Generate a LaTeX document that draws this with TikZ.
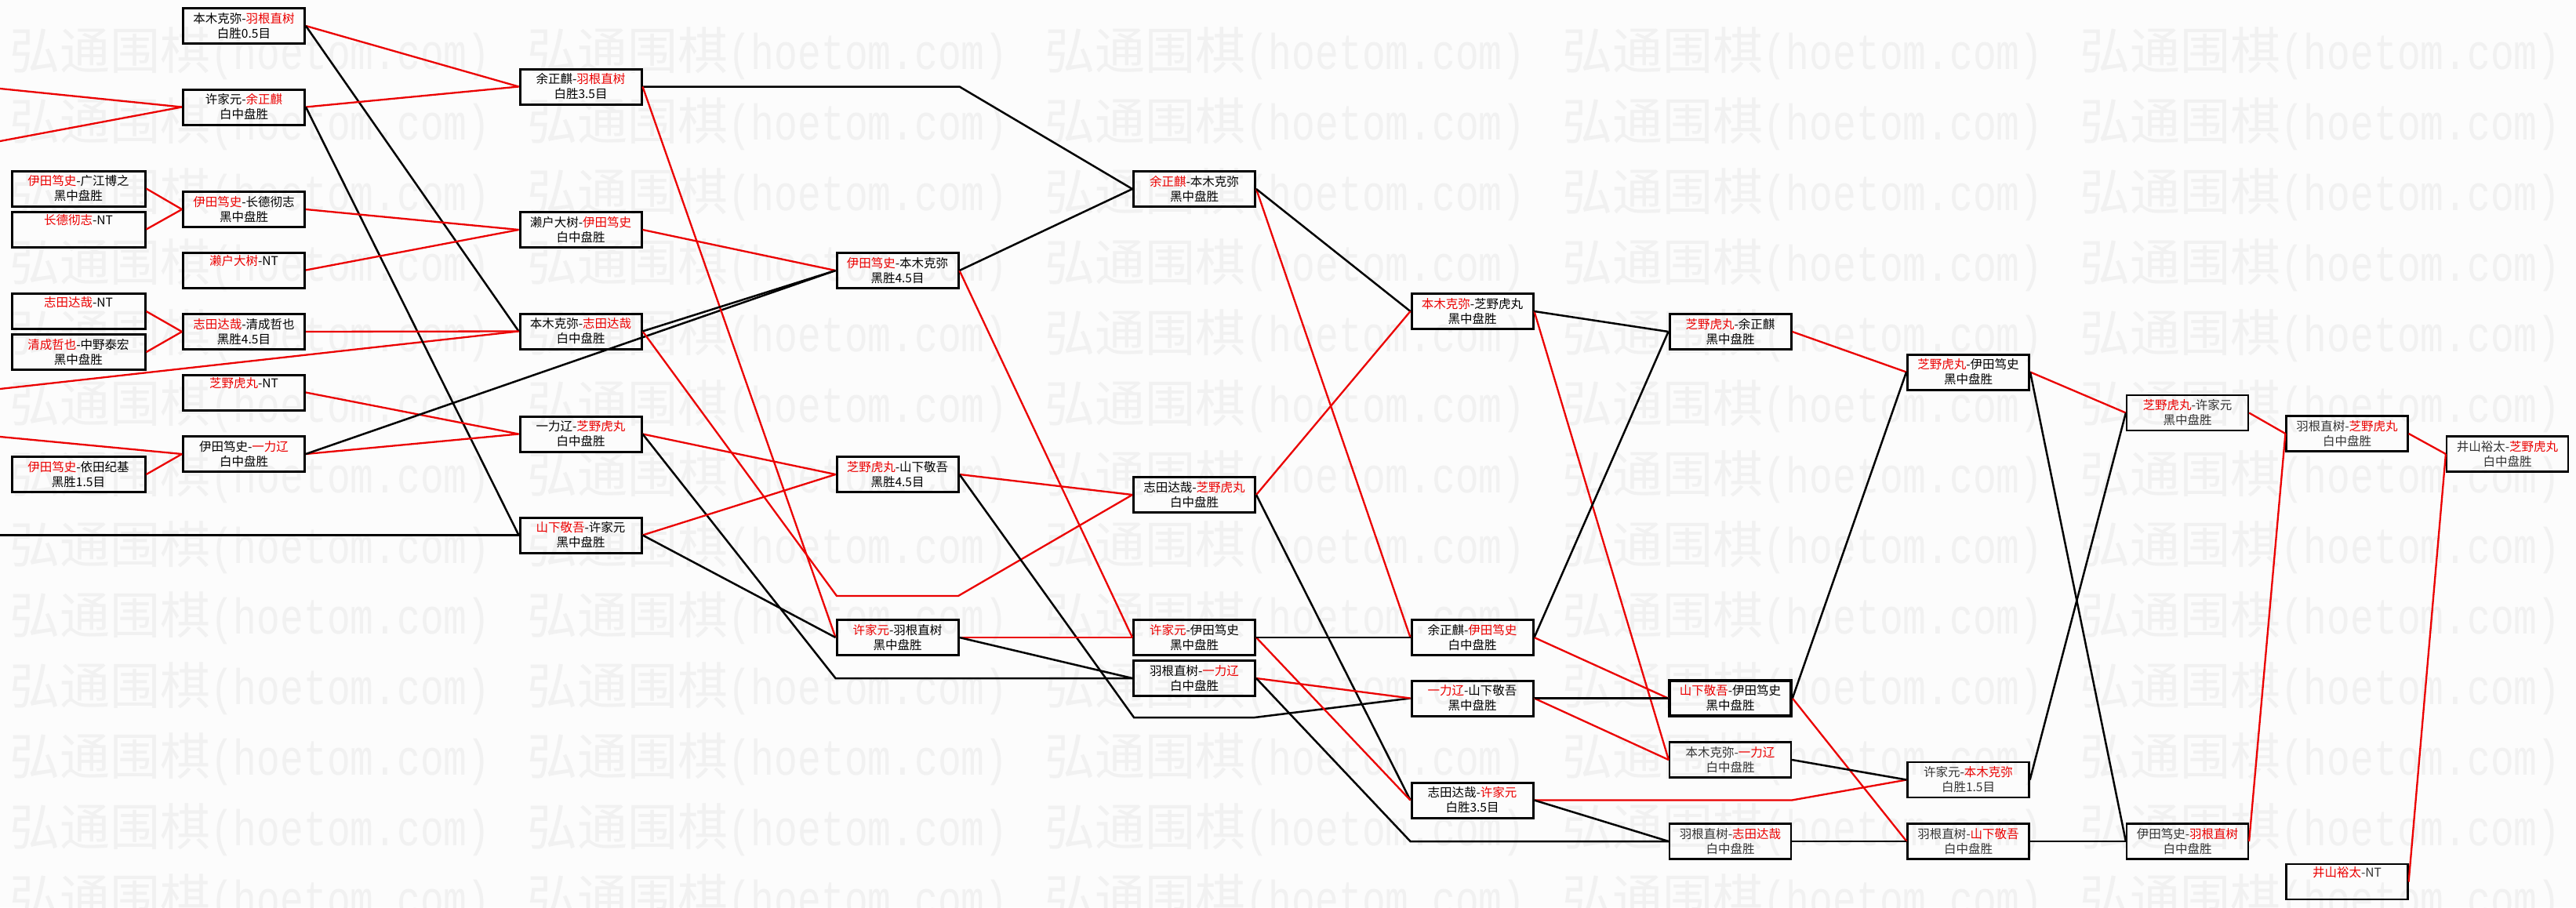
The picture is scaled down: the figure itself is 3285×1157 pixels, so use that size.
\documentclass[tikz,border=0pt]{standalone}
\usepackage{fontspec}
\usepackage{graphicx}
\setmainfont{Noto Sans CJK SC}
\newfontfamily\wmlatin{Liberation Mono}
\definecolor{myred}{RGB}{235,0,0}
\definecolor{wmgray}{RGB}{241,241,241}
\definecolor{bgcol}{RGB}{252,252,252}
\newcommand\rd[1]{\textcolor{myred}{#1}}
\tikzset{
 mbox/.style={draw=black, line width=3pt, minimum width=155pt, minimum height=45pt, inner sep=0pt, align=center, font=\fontsize{15.5}{19}\selectfont, text=black},
 wbox/.style={mbox, minimum width=170pt},
 tbox/.style={mbox, line width=2.2pt, text=black!80},
 win/.style={draw=myred, line width=2.3pt},
 lose/.style={draw=black, line width=2.5pt},
 wm/.style={anchor=west, inner sep=0pt, text=wmgray},
}
\begin{document}
\begin{tikzpicture}[x=1pt,y=-1pt]
\fill[bgcol] (0,0) rectangle (3285,1157);
\useasboundingbox (0,0) rectangle (3285,1157);
\begin{scope}
\clip (0,0) rectangle (3285,1157);
\foreach \r in {0,...,12}{
 \foreach \c in {0,...,4}{
  \node[wm] (wm-\r-\c) at (12+660*\c, 68+90*\r) {{\fontsize{64}{64}\selectfont 弘通围棋}\scalebox{0.775}[1]{\fontsize{64}{64}\wmlatin (hoetom.com)}};
 }
}
\end{scope}

% column 1
\node[wbox] (c1a) at (100,240.5) {\rd{伊田笃史}-广江博之\\黑中盘胜};
\node[wbox] (c1b) at (100,292.5) {\rd{长德彻志}-NT\\\strut};
\node[wbox] (c1c) at (100,397) {\rd{志田达哉}-NT\\\strut};
\node[wbox] (c1d) at (100,449) {\rd{清成哲也}-中野泰宏\\黑中盘胜};
\node[wbox] (c1e) at (100,605) {\rd{伊田笃史}-依田纪基\\黑胜1.5目};
% column 2
\node[mbox] (c2a) at (311,33) {本木克弥-\rd{羽根直树}\\白胜0.5目};
\node[mbox] (c2b) at (311,136.5) {许家元-\rd{余正麒}\\白中盘胜};
\node[mbox] (c2c) at (311,267) {\rd{伊田笃史}-长德彻志\\黑中盘胜};
\node[mbox] (c2d) at (311,344.5) {\rd{濑户大树}-NT\\\strut};
\node[mbox] (c2e) at (311,423) {\rd{志田达哉}-清成哲也\\黑胜4.5目};
\node[mbox] (c2f) at (311,500.5) {\rd{芝野虎丸}-NT\\\strut};
\node[mbox] (c2g) at (311,579) {伊田笃史-\rd{一力辽}\\白中盘胜};
% column 3
\node[mbox] (c3a) at (740.5,110.5) {余正麒-\rd{羽根直树}\\白胜3.5目};
\node[mbox] (c3b) at (740.5,293) {濑户大树-\rd{伊田笃史}\\白中盘胜};
\node[mbox] (c3c) at (740.5,422.5) {本木克弥-\rd{志田达哉}\\白中盘胜};
\node[mbox] (c3d) at (740.5,553.5) {一力辽-\rd{芝野虎丸}\\白中盘胜};
\node[mbox] (c3e) at (740.5,682.5) {\rd{山下敬吾}-许家元\\黑中盘胜};
% column 4
\node[mbox] (c4a) at (1144.5,345) {\rd{伊田笃史}-本木克弥\\黑胜4.5目};
\node[mbox] (c4b) at (1144.5,605) {\rd{芝野虎丸}-山下敬吾\\黑胜4.5目};
\node[mbox] (c4c) at (1144.5,813) {\rd{许家元}-羽根直树\\黑中盘胜};
% column 5
\node[mbox] (c5a) at (1523,241) {\rd{余正麒}-本木克弥\\黑中盘胜};
\node[mbox] (c5b) at (1523,631) {志田达哉-\rd{芝野虎丸}\\白中盘胜};
\node[mbox] (c5c) at (1523,813) {\rd{许家元}-伊田笃史\\黑中盘胜};
\node[mbox] (c5d) at (1523,865) {羽根直树-\rd{一力辽}\\白中盘胜};
% column 6
\node[mbox] (c6a) at (1877.5,397) {\rd{本木克弥}-芝野虎丸\\黑中盘胜};
\node[mbox] (c6b) at (1877.5,813) {余正麒-\rd{伊田笃史}\\白中盘胜};
\node[mbox] (c6c) at (1877.5,890.5) {\rd{一力辽}-山下敬吾\\黑中盘胜};
\node[mbox] (c6d) at (1877.5,1020.5) {志田达哉-\rd{许家元}\\白胜3.5目};
% column 7
\node[mbox] (c7a) at (2206.5,423) {\rd{芝野虎丸}-余正麒\\黑中盘胜};
\node[mbox, line width=3.6pt] (c7b) at (2206.5,890.5) {\rd{山下敬吾}-伊田笃史\\黑中盘胜};
\node[tbox] (c7c) at (2206.5,969) {本木克弥-\rd{一力辽}\\白中盘胜};
\node[tbox] (c7d) at (2206.5,1073) {羽根直树-\rd{志田达哉}\\白中盘胜};
% column 8
\node[mbox] (c8a) at (2510,474.5) {\rd{芝野虎丸}-伊田笃史\\黑中盘胜};
\node[tbox] (c8b) at (2510,994.5) {许家元-\rd{本木克弥}\\白胜1.5目};
\node[tbox] (c8c) at (2510,1073) {羽根直树-\rd{山下敬吾}\\白中盘胜};
% column 9
\node[tbox] (c9a) at (2789.5,526.5) {\rd{芝野虎丸}-许家元\\黑中盘胜};
\node[tbox] (c9b) at (2789.5,1073) {伊田笃史-\rd{羽根直树}\\白中盘胜};
% column 10
\node[tbox] (c10a) at (2993,553) {羽根直树-\rd{芝野虎丸}\\白中盘胜};
\node[tbox] (c10b) at (2993,1124.5) {\rd{井山裕太}-NT\\\strut};
% column 11
\node[tbox] (c11a) at (3197.5,579) {井山裕太-\rd{芝野虎丸}\\白中盘胜};

% free ends at the left border
\coordinate (e1) at (0,113);
\coordinate (e2) at (0,180);
\coordinate (e3) at (0,496);
\coordinate (e4) at (0,557);
\coordinate (e5) at (0,682.5);
% bends
\coordinate (k1) at (c3a.east -| c4a.east);
\coordinate (k2) at (1067,760);
\coordinate (k3) at (1222,760);
\coordinate (k4) at (c4c.west |- c5d.west);
\coordinate (k5) at (1446,915);
\coordinate (k6) at (1600,915);
\coordinate (k7) at (c6d.west |- c7d.west);
\coordinate (k8) at (c7d.east |- c6d.east);

% from the left border
\draw[win] (e1) -- (c2b.west);
\draw[win] (e2) -- (c2b.west);
\draw[win] (e3) -- (c3c.west);
\draw[win] (e4) -- (c2g.west);
\draw[lose] (e5) -- (c3e.west);
% column 1 -> 2
\draw[win] (c1a.east) -- (c2c.west);
\draw[win] (c1b.east) -- (c2c.west);
\draw[win] (c1c.east) -- (c2e.west);
\draw[win] (c1d.east) -- (c2e.west);
\draw[win] (c1e.east) -- (c2g.west);
% column 2 ->
\draw[win] (c2a.east) -- (c3a.west);
\draw[lose] (c2a.east) -- (c3c.west);
\draw[win] (c2b.east) -- (c3a.west);
\draw[lose] (c2b.east) -- (c3e.west);
\draw[win] (c2c.east) -- (c3b.west);
\draw[win] (c2d.east) -- (c3b.west);
\draw[win] (c2e.east) -- (c3c.west);
\draw[win] (c2f.east) -- (c3d.west);
\draw[win] (c2g.east) -- (c3d.west);
\draw[lose] (c2g.east) -- (c4a.west);
% column 3 ->
\draw[lose] (c3a.east) -- (k1) -- (c5a.west);
\draw[win] (c3a.east) -- (c4c.west);
\draw[win] (c3b.east) -- (c4a.west);
\draw[win] (c3c.east) -- (k2) -- (k3) -- (c5b.west);
\draw[lose] (c3c.east) -- (c4a.west);
\draw[win] (c3d.east) -- (c4b.west);
\draw[lose] (c3d.east) -- (k4) -- (c5d.west);
\draw[win] (c3e.east) -- (c4b.west);
\draw[lose] (c3e.east) -- (c4c.west);
% column 4 ->
\draw[win] (c4a.east) -- (c5c.west);
\draw[lose] (c4a.east) -- (c5a.west);
\draw[win] (c4b.east) -- (c5b.west);
\draw[lose] (c4b.east) -- (k5) -- (k6) -- (c6c.west);
\draw[win] (c4c.east) -- (c5c.west);
\draw[lose] (c4c.east) -- (c5d.west);
% column 5 ->
\draw[win] (c5a.east) -- (c6b.west);
\draw[lose] (c5a.east) -- (c6a.west);
\draw[win] (c5b.east) -- (c6a.west);
\draw[lose] (c5b.east) -- (c6d.west);
\draw[win] (c5c.east) -- (c6d.west);
\draw[lose] (c5c.east) -- (c6b.west);
\draw[win] (c5d.east) -- (c6c.west);
\draw[lose] (c5d.east) -- (k7) -- (c7d.west);
% column 6 ->
\draw[win] (c6a.east) -- (c7c.west);
\draw[lose] (c6a.east) -- (c7a.west);
\draw[win] (c6b.east) -- (c7b.west);
\draw[lose] (c6b.east) -- (c7a.west);
\draw[win] (c6c.east) -- (c7c.west);
\draw[lose] (c6c.east) -- (c7b.west);
\draw[win] (c6d.east) -- (k8) -- (c8b.west);
\draw[lose] (c6d.east) -- (c7d.west);
% column 7 ->
\draw[win] (c7a.east) -- (c8a.west);
\draw[win] (c7b.east) -- (c8c.west);
\draw[lose] (c7b.east) -- (c8a.west);
\draw[lose] (c7c.east) -- (c8b.west);
\draw[lose] (c7d.east) -- (c8c.west);
% column 8 ->
\draw[win] (c8a.east) -- (c9a.west);
\draw[lose] (c8a.east) -- (c9b.west);
\draw[lose] (c8b.east) -- (c9a.west);
\draw[lose] (c8c.east) -- (c9b.west);
% column 9 ->
\draw[win] (c9a.east) -- (c10a.west);
\draw[win] (c9b.east) -- (c10a.west);
% column 10 ->
\draw[win] (c10a.east) -- (c11a.west);
\draw[win] (c10b.east) -- (c11a.west);
\end{tikzpicture}
\end{document}
